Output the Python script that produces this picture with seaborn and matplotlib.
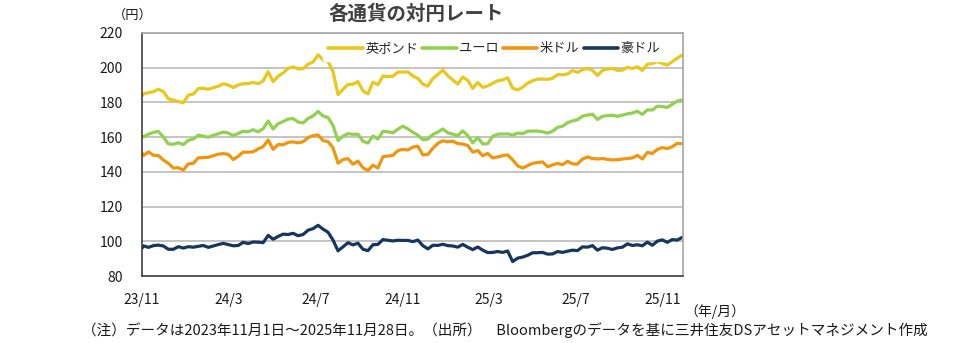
import pandas as pd
import numpy as np
import matplotlib
matplotlib.use("Agg")
import matplotlib.pyplot as plt
import matplotlib.dates as mdates
import seaborn as sns

# ---- data (weekly readings, yen per unit) ----
start_date = "2023-11-01"
week_start = "2023-11-03"
week_end = "2025-11-28"

gbp = [183.8, 184.9, 185.6, 186.2, 187.6, 186.2, 182.1, 181.3, 180.5, 179.8,
       184.2, 184.8, 188.0, 188.1, 187.6, 188.5, 189.3, 190.7, 190.0, 188.6,
       190.0, 190.8, 190.9, 191.5, 190.8, 192.4, 197.7, 192.0, 195.1, 197.0,
       199.6, 200.5, 199.3, 199.4, 202.0, 203.3, 207.5, 204.5, 203.6, 197.7,
       184.5, 187.5, 190.4, 190.5, 192.0, 186.7, 184.9, 191.7, 190.2, 195.2,
       194.9, 195.1, 197.5, 197.5, 197.6, 195.2, 193.8, 190.6, 189.4, 193.8,
       196.1, 198.6, 195.4, 192.9, 190.6, 194.6, 192.7, 188.1, 191.5, 188.7,
       189.5, 191.0, 192.5, 192.9, 194.2, 188.2, 187.2, 188.7, 191.1, 192.5,
       193.4, 193.5, 193.3, 193.9, 196.1, 195.9, 196.4, 198.4, 197.3, 198.9,
       199.6, 198.5, 195.5, 198.5, 199.2, 199.6, 198.5, 198.6, 200.2, 199.6,
       200.5, 198.4, 202.0, 202.5, 203.5, 202.5, 201.5, 203.5, 205.5, 207.3]

eur = [160.3, 160.1, 161.7, 162.7, 163.3, 160.1, 156.1, 155.9, 156.8, 155.7,
       158.2, 158.9, 161.1, 160.6, 159.9, 161.1, 161.9, 162.9, 162.4, 160.9,
       162.1, 163.4, 163.1, 164.3, 163.1, 164.8, 169.3, 164.7, 167.8, 169.0,
       170.4, 170.7, 168.7, 168.2, 170.8, 172.2, 174.8, 172.2, 171.3, 166.7,
       158.0, 160.6, 162.0, 161.6, 161.7, 157.6, 156.6, 160.7, 158.9, 163.3,
       163.1, 162.5, 164.6, 166.3, 164.8, 162.8, 161.2, 158.5, 158.8, 161.5,
       162.9, 164.7, 162.5, 161.7, 160.9, 163.6, 160.9, 156.7, 159.8, 156.1,
       156.2, 160.5, 161.7, 161.8, 161.9, 161.2, 162.3, 162.0, 163.4, 163.5,
       163.5, 163.1, 162.3, 163.4, 165.6, 166.3, 168.3, 169.4, 170.0, 172.1,
       172.7, 173.2, 170.2, 172.0, 172.4, 172.6, 172.0, 172.7, 173.4, 173.9,
       174.9, 173.1, 175.7, 175.6, 177.8, 177.6, 177.1, 179.0, 180.8, 181.4]

usd = [151.0, 149.4, 151.5, 149.6, 149.4, 146.8, 144.9, 142.2, 142.4, 141.0,
       144.6, 144.9, 148.1, 148.2, 148.4, 149.3, 150.2, 150.5, 150.1, 147.1,
       149.0, 151.4, 151.3, 151.6, 153.2, 154.6, 158.3, 153.0, 155.8, 155.6,
       157.0, 157.3, 156.7, 157.4, 159.8, 160.9, 161.3, 158.0, 157.4, 153.8,
       145.0, 147.1, 147.6, 144.4, 146.2, 142.3, 140.8, 143.9, 142.2, 148.7,
       149.1, 149.5, 152.3, 152.9, 152.6, 154.3, 154.8, 149.8, 150.0, 153.6,
       156.4, 157.9, 157.3, 157.7, 156.3, 156.0, 155.2, 151.4, 152.3, 149.3,
       150.6, 148.0, 148.6, 149.3, 149.8, 146.9, 143.5, 142.2, 143.6, 144.9,
       145.4, 145.7, 143.0, 144.0, 144.9, 144.1, 146.1, 144.6, 144.5, 147.4,
       148.6, 147.7, 147.4, 147.7, 147.2, 146.9, 147.0, 147.4, 147.7, 148.0,
       149.5, 147.4, 151.2, 150.6, 152.9, 154.0, 153.4, 154.5, 156.4, 156.2]

aud = [96.0, 97.4, 96.5, 97.5, 97.8, 97.3, 95.4, 95.4, 96.9, 96.1,
       96.9, 96.6, 97.1, 97.6, 96.5, 97.3, 98.1, 98.8, 98.1, 97.4,
       97.6, 99.4, 98.7, 99.6, 99.5, 99.2, 103.4, 101.2, 102.8, 104.1,
       103.9, 104.6, 103.2, 103.9, 106.4, 107.3, 109.2, 107.0, 105.2, 100.7,
       94.5, 96.8, 99.2, 97.9, 98.9, 95.4, 94.6, 98.0, 98.2, 101.0,
       100.6, 100.2, 100.6, 100.5, 100.5, 99.8, 100.7, 97.5, 95.6, 97.7,
       97.6, 98.3, 97.5, 97.3, 96.6, 98.2, 96.6, 95.2, 96.7, 94.9,
       93.5, 93.6, 94.1, 93.6, 94.4, 88.3, 90.3, 90.9, 91.9, 93.4,
       93.4, 93.6, 92.6, 92.7, 94.1, 93.6, 94.3, 94.9, 94.6, 96.8,
       96.6, 97.5, 94.9, 96.3, 96.0, 95.3, 96.2, 96.6, 98.5, 97.6,
       98.0, 97.4, 99.5, 97.7, 100.1, 100.8, 99.4, 101.0, 100.7, 102.3]

series_names = ["英ポンド", "ユーロ", "米ドル", "豪ドル"]
series_colors = ["#E8C81C", "#92D050", "#F0960E", "#17365D"]
tick_dates = ["2023-11-01", "2024-03-01", "2024-07-01", "2024-11-01",
              "2025-03-01", "2025-07-01", "2025-11-01"]
tick_labels = ["23/11", "24/3", "24/7", "24/11", "25/3", "25/7", "25/11"]
y_ticks = [80, 100, 120, 140, 160, 180, 200, 220]

# ---- build frame ----
dates = pd.DatetimeIndex([pd.Timestamp(start_date)]).append(
    pd.date_range(week_start, week_end, freq="W-FRI"))
frames = []
for name, vals in zip(series_names, [gbp, eur, usd, aud]):
    frames.append(pd.DataFrame({"date": dates, "rate": vals, "currency": name}))
df = pd.concat(frames, ignore_index=True)

sns.set_theme(style="white")
plt.rcParams["font.family"] = ["Noto Sans CJK JP", "DejaVu Sans"]

fig = plt.figure(figsize=(9.57, 3.43), dpi=100)
ax = fig.add_axes([142 / 957, 1 - 276 / 343, (683 - 142) / 957, (276 - 33) / 343])

sns.lineplot(data=df, x="date", y="rate", hue="currency",
             hue_order=series_names, palette=series_colors,
             linewidth=2.3, ax=ax, legend=False)

ax.set_xlim(pd.Timestamp("2023-11-01"), pd.Timestamp("2025-11-29"))
ax.set_ylim(80, 220)
ax.set_yticks(y_ticks)
ax.set_xticks([pd.Timestamp(d) for d in tick_dates])
ax.set_xticklabels(tick_labels)
ax.set_xlabel("")
ax.set_ylabel("")
ax.yaxis.grid(True, color="#BFBFBF", linewidth=1.3)
ax.xaxis.grid(False)
ax.set_axisbelow(True)

for s in ["left", "bottom"]:
    ax.spines[s].set_color("#404040")
    ax.spines[s].set_linewidth(1.2)
for s in ["top", "right"]:
    ax.spines[s].set_color("#A6A6A6")
    ax.spines[s].set_linewidth(1.2)

ax.tick_params(axis="x", direction="in", length=5, width=1, color="#404040",
               pad=12, labelsize=10, labelcolor="#1A1A1A")
ax.tick_params(axis="y", length=0, pad=14, labelsize=10, labelcolor="#1A1A1A")

handles = [plt.Line2D([], [], color=c, linewidth=2.6) for c in series_colors]
leg = ax.legend(handles, series_names, ncol=4, loc="upper right",
                bbox_to_anchor=(0.975, 1.0), frameon=True, fontsize=9.5,
                handlelength=2.6, handletextpad=0.2, columnspacing=0.3,
                borderaxespad=0.3)
leg.get_frame().set_facecolor("white")
leg.get_frame().set_edgecolor("white")
leg.get_frame().set_alpha(1)

fig.text(416 / 957, 1 - 14 / 343, "各通貨の対円レート", ha="center", va="center",
         fontsize=14, fontweight="bold", color="#404040")
fig.text(133 / 957, 1 - 15 / 343, "（円）", ha="center", va="center",
         fontsize=9.5, color="#1A1A1A")
fig.text(715 / 957, 1 - 312 / 343, "（年/月）", ha="center", va="center",
         fontsize=10, color="#1A1A1A")
fig.text(82 / 957, 1 - 330 / 343,
         "（注）データは2023年11月1日～2025年11月28日。（出所）　Bloombergのデータを基に三井住友DSアセットマネジメント作成",
         ha="left", va="center", fontsize=10.5, color="#1A1A1A")

fig.savefig("out.png", dpi=100)
